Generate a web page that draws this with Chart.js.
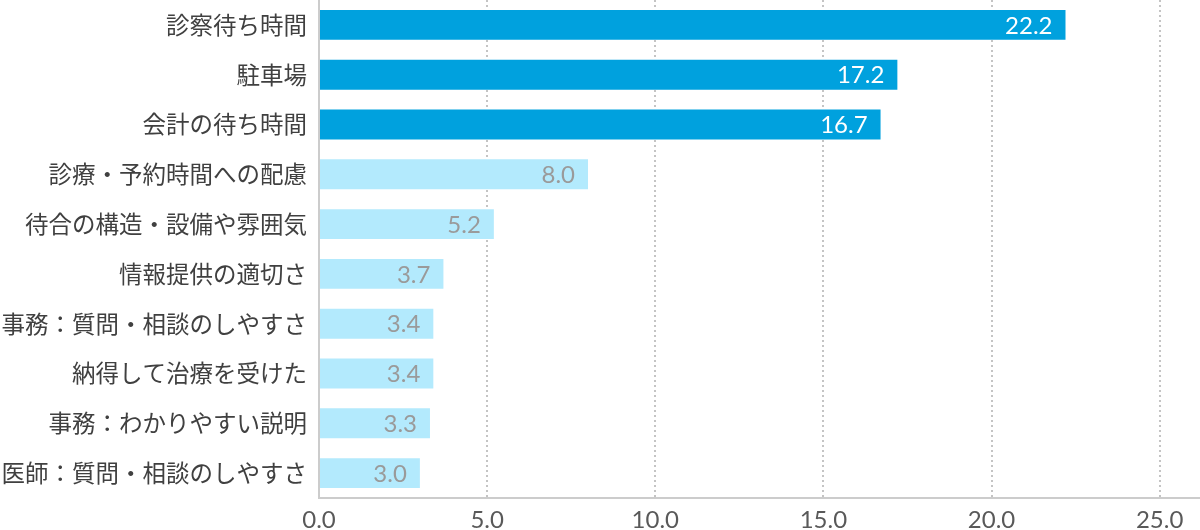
<!DOCTYPE html>
<html>
<head>
<meta charset="utf-8">
<script src="https://cdn.jsdelivr.net/npm/chart.js@4/dist/chart.umd.min.js"></script>
<style>
  html, body { margin: 0; padding: 0; background: #ffffff; }
  #wrap { width: 1200px; height: 530px; }
</style>
</head>
<body>
<div id="wrap"><canvas id="c" width="1200" height="530"></canvas></div>
<script>
const categories = [
  '診察待ち時間',
  '駐車場',
  '会計の待ち時間',
  '診療・予約時間への配慮',
  '待合の構造・設備や雰囲気',
  '情報提供の適切さ',
  '事務：質問・相談のしやすさ',
  '納得して治療を受けた',
  '事務：わかりやすい説明',
  '医師：質問・相談のしやすさ'
];
const values = [22.2, 17.2, 16.7, 8.0, 5.2, 3.7, 3.4, 3.4, 3.3, 3.0];
const highlightCount = 3;
const xTickStep = 5;
const xMax = 26.2;

const DARK = '#00a1de';
const LIGHT = '#b3eafd';
const CJK = '"Noto Sans CJK JP", "Noto Sans", sans-serif';
const NUMFONT = 'Lato, "Noto Sans", sans-serif';

const valueLabels = {
  id: 'valueLabels',
  afterDatasetsDraw(chart) {
    const ctx = chart.ctx;
    const meta = chart.getDatasetMeta(0);
    ctx.save();
    ctx.font = '24px ' + NUMFONT;
    ctx.textAlign = 'right';
    ctx.textBaseline = 'middle';
    meta.data.forEach((bar, i) => {
      ctx.fillStyle = i < highlightCount ? '#ffffff' : '#9a9a9a';
      ctx.fillText(values[i].toFixed(1), bar.x - 13, bar.y + 1);
    });
    ctx.restore();
  }
};

new Chart(document.getElementById('c'), {
  type: 'bar',
  data: {
    labels: categories,
    datasets: [{
      data: values,
      backgroundColor: values.map((v, i) => i < highlightCount ? DARK : LIGHT),
      borderWidth: 0,
      categoryPercentage: 1,
      barPercentage: 0.6
    }]
  },
  options: {
    indexAxis: 'y',
    responsive: false,
    devicePixelRatio: 1,
    animation: false,
    layout: { padding: 0 },
    plugins: {
      legend: { display: false },
      tooltip: { enabled: false }
    },
    scales: {
      x: {
        min: 0,
        max: xMax,
        ticks: {
          stepSize: xTickStep,
          includeBounds: false,
          color: '#595959',
          font: { family: NUMFONT, size: 24 },
          padding: 8,
          callback: v => Number(v).toFixed(1)
        },
        afterBuildTicks: s => { s.ticks = s.ticks.filter(t => Math.abs(t.value % xTickStep) < 1e-9); },
        afterFit: s => { s.paddingLeft = 0; s.paddingRight = 0; s.height = 32; },
        grid: {
          drawTicks: false,
          color: ctx => (ctx.tick && ctx.tick.value === 0) ? 'rgba(0,0,0,0)' : '#c4c4c4',
          lineWidth: 2
        },
        border: { display: true, color: '#cccccc', width: 2, dash: [2, 3] }
      },
      y: {
        ticks: {
          color: '#404040',
          font: { family: CJK, size: 23.5 },
          padding: 12,
          autoSkip: false
        },
        afterFit: s => { s.width = 319; s.paddingTop = 0; s.paddingBottom = 0; },
        grid: { display: false, drawTicks: false },
        border: { display: true, color: '#cccccc', width: 2 }
      }
    }
  },
  plugins: [valueLabels]
});
</script>
</body>
</html>
